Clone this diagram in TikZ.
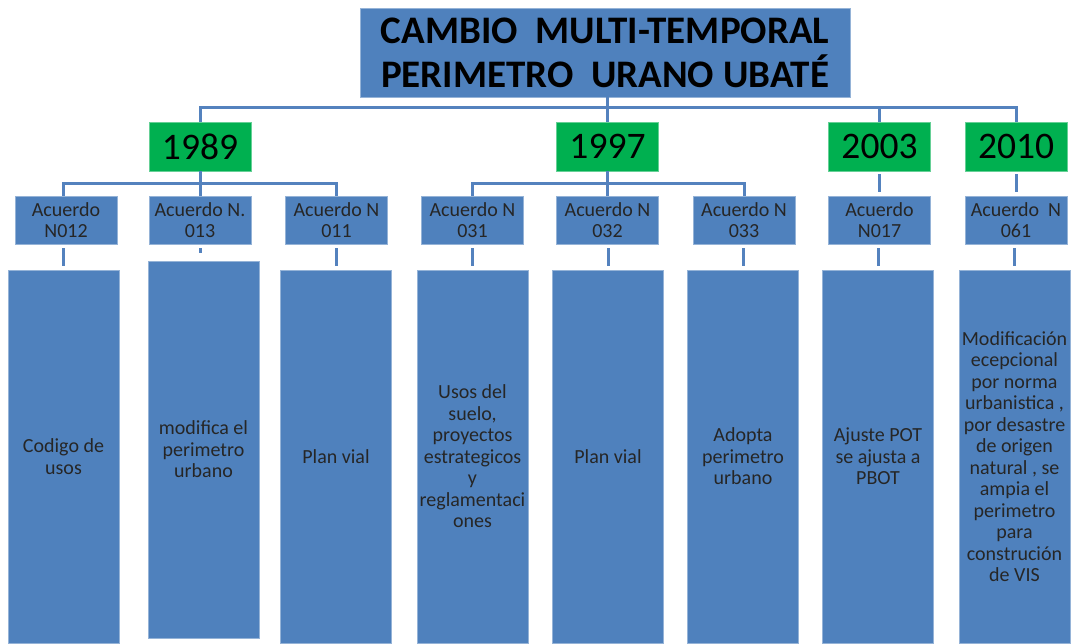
\documentclass[tikz,border=0pt]{standalone}
\usepackage{fontspec}
\setmainfont{Carlito}
\usetikzlibrary{positioning}
\definecolor{boxblue}{RGB}{79,129,189}
\definecolor{linkblue}{RGB}{84,130,190}
\definecolor{yeargreen}{RGB}{0,176,80}

\begin{document}
\begin{tikzpicture}[x=1pt,y=-1pt,
		titlebox/.style={fill=boxblue,draw=boxblue!60!white,line width=.8pt,minimum width=490pt,minimum height=89pt,align=center,inner sep=0pt,font=\fontsize{39}{44}\selectfont\bfseries},
		yearbox/.style={fill=yeargreen,draw=yeargreen!60!white,line width=.8pt,minimum width=102pt,minimum height=49pt,inner sep=0pt,font=\fontsize{37.5}{40}\selectfont},
		acuerdo/.style={fill=boxblue,draw=boxblue!60!white,line width=.8pt,minimum width=102pt,minimum height=48pt,align=center,inner sep=0pt,text=black!85,font=\fontsize{20}{21.5}\selectfont},
		detalle/.style={fill=boxblue,draw=boxblue!60!white,line width=.8pt,minimum width=111pt,align=center,inner sep=0pt,text=black!85,font=\fontsize{20}{21.5}\selectfont},
		tree/.style={draw=linkblue,line width=3pt}]
			%\draw[help lines] (0, 0) grid[step=50] (1073, 643);
			\useasboundingbox (0,0) rectangle (1073,643);

			\node[titlebox] (titulo) at (605,52.5) {CAMBIO\ \ MULTI-TEMPORAL\\PERIMETRO\ \ URANO UBATÉ};

			\node[yearbox] (y89) at (200,146.5) {1989};
			\node[yearbox] (y97) at (607.5,146.5) {1997};
			\node[yearbox] (y03) at (879.5,146.5) {2003};
			\node[yearbox] (y10) at (1016,146.5) {2010};

			\node[acuerdo] (a1) at (66,220) {Acuerdo\\N012};
			\node[acuerdo] (a2) at (200,220) {Acuerdo N.\\013};
			\node[acuerdo] (a3) at (336.5,220) {Acuerdo N\\011};
			\node[acuerdo] (a4) at (472.5,220) {Acuerdo N\\031};
			\node[acuerdo] (a5) at (607.5,220) {Acuerdo N\\032};
			\node[acuerdo] (a6) at (744,220) {Acuerdo N\\033};
			\node[acuerdo] (a7) at (879.5,220) {Acuerdo\\N017};
			\node[acuerdo] (a8) at (1016,220) {Acuerdo\ \ N\\061};

			\node[detalle,minimum height=373pt] (t1) at (63.5,456.5) {Codigo de\\usos};
			\node[detalle,minimum height=377pt] (t2) at (203.5,449.5) {modifica el\\perimetro\\urbano};
			\node[detalle,minimum height=373pt] (t3) at (336,456.5) {Plan vial};
			\node[detalle,minimum height=373pt] (t4) at (472.5,456.5) {Usos del\\suelo,\\proyectos\\estrategicos\\y\\reglamentaci\\ones};
			\node[detalle,minimum height=373pt] (t5) at (608,456.5) {Plan vial};
			\node[detalle,minimum height=373pt] (t6) at (743,456.5) {Adopta\\perimetro\\urbano};
			\node[detalle,minimum height=373pt] (t7) at (878,456.5) {Ajuste POT\\se ajusta a\\PBOT};
			\node[detalle,minimum height=373pt] (t8) at (1014.5,456.5) {Modificación\\ecepcional\\por norma\\urbanistica ,\\por desastre\\de origen\\natural , se\\ampia el\\perimetro\\para\\construción\\de VIS};

			% title to years
			\draw[tree] (y97.north) -- (y97.north |- titulo.south);
			\draw[tree] (y89.north) -- ++(0,-14) -| (y10.north);
			\draw[tree] (y03.north) -- ++(0,-14);

			% years to acuerdos
			\draw[tree] (y89.south) -- ++(0,12) coordinate (b89);
			\draw[tree] (a1.north -| t1.north) |- (b89) -| (a3.north);
			\draw[tree] (b89) -- (a2.north);
			\draw[tree] (y97.south) -- ++(0,12) coordinate (b97);
			\draw[tree] (a4.north) |- (b97) -| (a6.north);
			\draw[tree] (b97) -- (a5.north);
			\draw[tree,shorten <=3pt,shorten >=4pt] (y03.south) -- (a7.north);
			\draw[tree,shorten <=3pt,shorten >=4pt] (y10.south) -- (a8.north);

			% acuerdos to details
			\draw[tree,shorten <=4pt,shorten >=4pt] (t1.north |- a1.south) -- (t1.north);
			\draw[tree,shorten <=4pt,shorten >=8pt] (a2.south) -- (a2.south |- t2.north);
			\draw[tree,shorten <=4pt,shorten >=4pt] (t3.north |- a3.south) -- (t3.north);
			\draw[tree,shorten <=4pt,shorten >=4pt] (t4.north |- a4.south) -- (t4.north);
			\draw[tree,shorten <=4pt,shorten >=4pt] (t5.north |- a5.south) -- (t5.north);
			\draw[tree,shorten <=4pt,shorten >=4pt] (t6.north |- a6.south) -- (t6.north);
			\draw[tree,shorten <=4pt,shorten >=4pt] (t7.north |- a7.south) -- (t7.north);
			\draw[tree,shorten <=4pt,shorten >=4pt] (t8.north |- a8.south) -- (t8.north);
		\end{tikzpicture}
\end{document}
